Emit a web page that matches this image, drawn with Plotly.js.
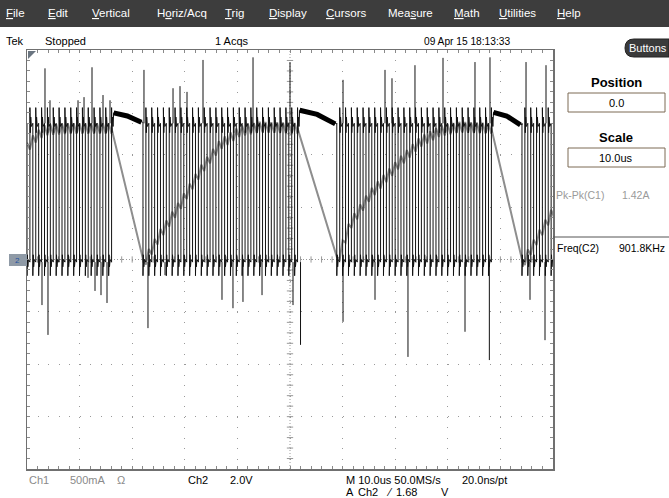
<!DOCTYPE html>
<html><head><meta charset="utf-8">
<script src="https://cdn.plot.ly/plotly-3.0.1.min.js"></script>
<style>html,body{margin:0;padding:0;background:#fff;overflow:hidden}#chart{width:669px;height:498px}</style>
</head><body><div id="chart"></div>
<script>
// ---------- data (time in us, amplitude in divisions) ----------
const burstStart = [0, 22.05, 58.9, 94.1];
const burstEnd   = [16.35, 52.45, 88.3, 100];
const switchFreqKHz = 901.8;
const ch2High = 2.6;
const ch2Low = -0.05;
const ch2Overshoot = 0.30;
const ch2Undershoot = 0.26;
const offStart = [2.80, 2.85, 2.81];
const offMid   = [2.74, 2.77, 2.74];
const offEnd   = [2.62, 2.59, 2.57];

const ch1T = [0, 1.5, 3.4, 8, 16.3, 22.0, 25.3, 29.1, 32.9, 36.7, 40.5, 44.3, 52.4, 58.9, 61.4, 65.2, 70.9, 74.7, 78.5, 82.3, 88.3, 94.1, 100];
const ch1V = [2.13, 2.32, 2.47, 2.5, 2.5, -0.1, 0.47, 1.04, 1.68, 2.19, 2.45, 2.53, 2.5, -0.05, 0.66, 1.23, 1.86, 2.24, 2.45, 2.53, 2.5, -0.1, 0.91];
const ch1Ripple = 0.1;

const spikeUpT = [3.42, 4.37, 9.70, 10.84, 12.36, 14.45, 15.78, 22.24, 27.76, 29.09, 30.42, 33.46, 42.97, 50.0, 60.08, 68.06, 69.39, 73.76, 79.09, 85.17, 88.02, 94.87, 98.67];
const spikeUpV = [3.65, 3.04, 3.04, 3.10, 3.67, 3.14, 3.04, 3.62, 3.27, 3.31, 3.20, 3.81, 3.86, 3.77, 3.43, 3.62, 3.46, 3.71, 3.85, 3.77, 3.86, 3.77, 3.71];
const spikeDnT = [2.85, 3.99, 11.6, 12.93, 14.07, 15.21, 23.0, 26.24, 37.07, 39.16, 41.06, 44.68, 50.57, 52.0, 60.08, 66.16, 72.43, 83.27, 87.9, 95.63, 98.48];
const spikeDnV = [-0.87, -1.44, -0.35, -0.60, -0.68, -0.83, -1.31, -0.30, -0.77, -0.93, -0.81, -0.68, -0.87, -1.63, -1.19, -0.77, -1.86, -1.38, -1.92, -0.77, -1.54];

// ---------- build traces ----------
const period = 1000 / switchFreqKHz;
function env(t) {
  for (let i = 1; i < ch1T.length; i++) {
    if (t <= ch1T[i]) { const f = (t - ch1T[i-1]) / (ch1T[i] - ch1T[i-1]); return ch1V[i-1] + f * (ch1V[i] - ch1V[i-1]); }
  }
  return ch1V[ch1V.length-1];
}
const c2x = [], c2y = [], offX = [], offY = [], c1x = [], c1y = [];
for (let b = 0; b < burstStart.length; b++) {
  const s = burstStart[b], e = burstEnd[b];
  let k = 0, lastRise = s;
  while (s + k * period + period / 2 <= e || (b === burstStart.length - 1 && s + k * period < e + period)) {
    const tf = s + k * period, tr = tf + period / 2;
    c2x.push(tf, tf, tf + 0.07, tf + 0.16, tf + 0.28, tr);
    c2y.push(ch2High, ch2Low - ch2Undershoot, ch2Low + 0.14, ch2Low - 0.09, ch2Low + 0.05, ch2Low);
    c2x.push(tr, tr + 0.07, tr + 0.16, tr + 0.28);
    c2y.push(ch2High + ch2Overshoot, ch2High - 0.18, ch2High + 0.12, ch2High - 0.06);
    c1x.push(tf, tr); c1y.push(env(tf) + ch1Ripple, env(tr) - ch1Ripple);
    lastRise = tr; k++;
  }
  if (b < offStart.length) {
    const n = burstStart[b + 1];
    c2x.push(lastRise + 0.4, (lastRise + n) / 2, n);
    c2y.push(offStart[b], offMid[b], offEnd[b]);
    offX.push(lastRise + 0.4, (lastRise + n) / 2, n - 0.3, null);
    offY.push(offStart[b], offMid[b], offEnd[b], null);
    c1x.push(lastRise); c1y.push(env(lastRise));
  }
}
const spX = [], spY = [];
spikeUpT.forEach((t, i) => { spX.push(t, t, null); spY.push(ch2High, spikeUpV[i], null); });
spikeDnT.forEach((t, i) => { spX.push(t, t, null); spY.push(ch2Low, spikeDnV[i], null); });

const traces = [
  {x: c1x, y: c1y, mode: 'lines', line: {color: '#8e8e8e', width: 2}, hoverinfo: 'skip'},
  {x: c2x, y: c2y, mode: 'lines', line: {color: '#111', width: 1}, hoverinfo: 'skip'},
  {x: offX, y: offY, mode: 'lines', line: {color: '#000', width: 5}, hoverinfo: 'skip'},
  {x: spX, y: spY, mode: 'lines', line: {color: '#111', width: 1}, hoverinfo: 'skip'}
];

// ---------- layout decoration ----------
const L = 27, R = 553, T = 50, B = 469;
const px = x => (x - L) / (R - L), py = y => (B - y) / (B - T);
const FONT = '"Liberation Sans", Arial, sans-serif';
const ann = [];
function txt(text, x, y, size, color, anchor, extra) {
  ann.push(Object.assign({text: text, x: px(x), y: py(y), xref: 'paper', yref: 'paper', xanchor: anchor || 'left', yanchor: 'middle',
    showarrow: false, borderpad: 0, font: {family: FONT, size: size, color: color}}, extra || {}));
}
const shapes = [];
// menu bar
shapes.push({type: 'rect', xref: 'paper', yref: 'paper', x0: px(0), x1: px(669), y0: py(0), y1: py(27), fillcolor: '#3d3d3d', line: {width: 0}, layer: 'below'});
const menu = [['<u>F</u>ile', 5], ['<u>E</u>dit', 47], ['<u>V</u>ertical', 91], ['H<u>o</u>riz/Acq', 156], ['<u>T</u>rig', 224], ['<u>D</u>isplay', 268], ['<u>C</u>ursors', 325], ['Mea<u>s</u>ure', 387], ['<u>M</u>ath', 453], ['<u>U</u>tilities', 498], ['<u>H</u>elp', 556]];
menu.forEach(m => txt(m[0], m[1], 13, 11.5, '#ffffff'));
// status row
txt('Tek', 5, 41, 11, '#000'); txt('Stopped', 44, 41, 11, '#000'); txt('1 Acqs', 214, 41, 11, '#000'); txt('09 Apr 15 18:13:33', 423, 41, 10.2, '#000');
// buttons pill
shapes.push({type: 'path', xref: 'paper', yref: 'paper', path: 'M ' + px(634) + ' ' + py(39) + ' L ' + px(669) + ' ' + py(39) + ' L ' + px(669) + ' ' + py(57) + ' L ' + px(634) + ' ' + py(57) + ' Q ' + px(625) + ' ' + py(57) + ' ' + px(625) + ' ' + py(48) + ' Q ' + px(625) + ' ' + py(39) + ' ' + px(634) + ' ' + py(39) + ' Z', fillcolor: '#3a3a3a', line: {color: '#222', width: 1}});
txt('Buttons', 648, 48, 11, '#ffffff', 'center');
txt('<b>Position</b>', 616, 82, 13, '#000', 'center');
shapes.push({type: 'rect', xref: 'paper', yref: 'paper', x0: px(568), x1: px(665), y0: py(93), y1: py(112), line: {color: '#7d6a55', width: 1}, fillcolor: '#fff'});
txt('0.0', 616, 102.5, 11, '#000', 'center');
txt('<b>Scale</b>', 616, 137, 13, '#000', 'center');
shapes.push({type: 'rect', xref: 'paper', yref: 'paper', x0: px(568), x1: px(665), y0: py(148), y1: py(167), line: {color: '#7d6a55', width: 1}, fillcolor: '#fff'});
txt('10.0us', 616, 157.5, 11, '#000', 'center');
txt('Pk-Pk(C1)', 555, 195, 10.5, '#9a9a9a'); txt('1.42A', 621, 195, 10.5, '#9a9a9a');
shapes.push({type: 'line', xref: 'paper', yref: 'paper', x0: px(553), x1: px(669), y0: py(237), y1: py(237), line: {color: '#555', width: 1}});
txt('Freq(C2)', 556, 248, 10.5, '#000'); txt('901.8KHz', 666, 248, 10.5, '#000', 'right');
// bottom readouts
txt('Ch1', 28, 480, 11, '#8a8a8a'); txt('500mA', 69, 480, 11, '#8a8a8a'); txt('Ω', 116, 480, 11, '#8a8a8a');
txt('Ch2', 187, 480, 11, '#000'); txt('2.0V', 229, 480, 11, '#000');
txt('M 10.0us 50.0MS/s', 345, 480, 11, '#000'); txt('20.0ns/pt', 461, 480, 11, '#000');
txt('A', 345, 492, 11, '#000'); txt('Ch2', 357, 492, 11, '#000'); txt('⁄', 385, 492, 11, '#000'); txt('1.68', 395, 492, 11, '#000'); txt('V', 440, 492, 11, '#000');
// ground marker and trigger-position marker
shapes.push({type: 'rect', xref: 'paper', yref: 'paper', x0: px(9), x1: px(27), y0: py(254), y1: py(266), fillcolor: '#8f9aa6', line: {width: 0}});
txt('2', 17, 260, 8, '#2050a0', 'center');
shapes.push({type: 'path', xref: 'paper', yref: 'paper', path: 'M ' + px(28) + ' ' + py(51) + ' L ' + px(36) + ' ' + py(51) + ' L ' + px(28) + ' ' + py(59) + ' Z', fillcolor: '#6a7580', line: {width: 0}});
// graticule centre lines with tick marks
shapes.push({type: 'line', xref: 'x', yref: 'y', x0: 50, x1: 50, y0: -4, y1: 4, line: {color: '#9a9a9a', width: 1, dash: '1px,2px'}, layer: 'below'});
shapes.push({type: 'line', xref: 'x', yref: 'y', x0: 0, x1: 100, y0: 0, y1: 0, line: {color: '#9a9a9a', width: 1, dash: '1px,2px'}, layer: 'below'});
for (let i = 1; i < 50; i++) {
  const t = i * 2;
  shapes.push({type: 'line', xref: 'x', yref: 'y', x0: t, x1: t, y0: -0.06, y1: 0.06, line: {color: '#9a9a9a', width: 1}, layer: 'below'});
}
for (let i = 1; i < 40; i++) {
  const v = -4 + i * 0.2;
  shapes.push({type: 'line', xref: 'x', yref: 'y', x0: 49.4, x1: 50.6, y0: v, y1: v, line: {color: '#9a9a9a', width: 1}, layer: 'below'});
}

const axisCommon = {showticklabels: false, zeroline: false, showline: true, linecolor: '#707070', linewidth: 1.5, mirror: 'ticks',
  ticks: 'inside', ticklen: 3, tickcolor: '#8a8a8a', showgrid: true, gridcolor: '#9a9a9a', gridwidth: 1, fixedrange: true};
const layout = {
  width: 669, height: 498, margin: {l: L, r: 669 - R, t: T, b: 498 - B, pad: 0},
  paper_bgcolor: '#ffffff', plot_bgcolor: '#ffffff', showlegend: false,
  xaxis: Object.assign({}, axisCommon, {range: [0, 100], dtick: 10, tick0: 0, griddash: '1px,9.48px',
    minor: {dtick: 2, ticks: 'inside', ticklen: 3, tickcolor: '#8a8a8a', showgrid: false}}),
  yaxis: Object.assign({}, axisCommon, {range: [-4, 4], dtick: 1, tick0: 0, griddash: '1px,9.52px',
    minor: {dtick: 0.2, ticks: 'inside', ticklen: 3, tickcolor: '#8a8a8a', showgrid: false}}),
  shapes: shapes, annotations: ann
};
Plotly.newPlot('chart', traces, layout, {staticPlot: true, displayModeBar: false});
</script></body></html>
